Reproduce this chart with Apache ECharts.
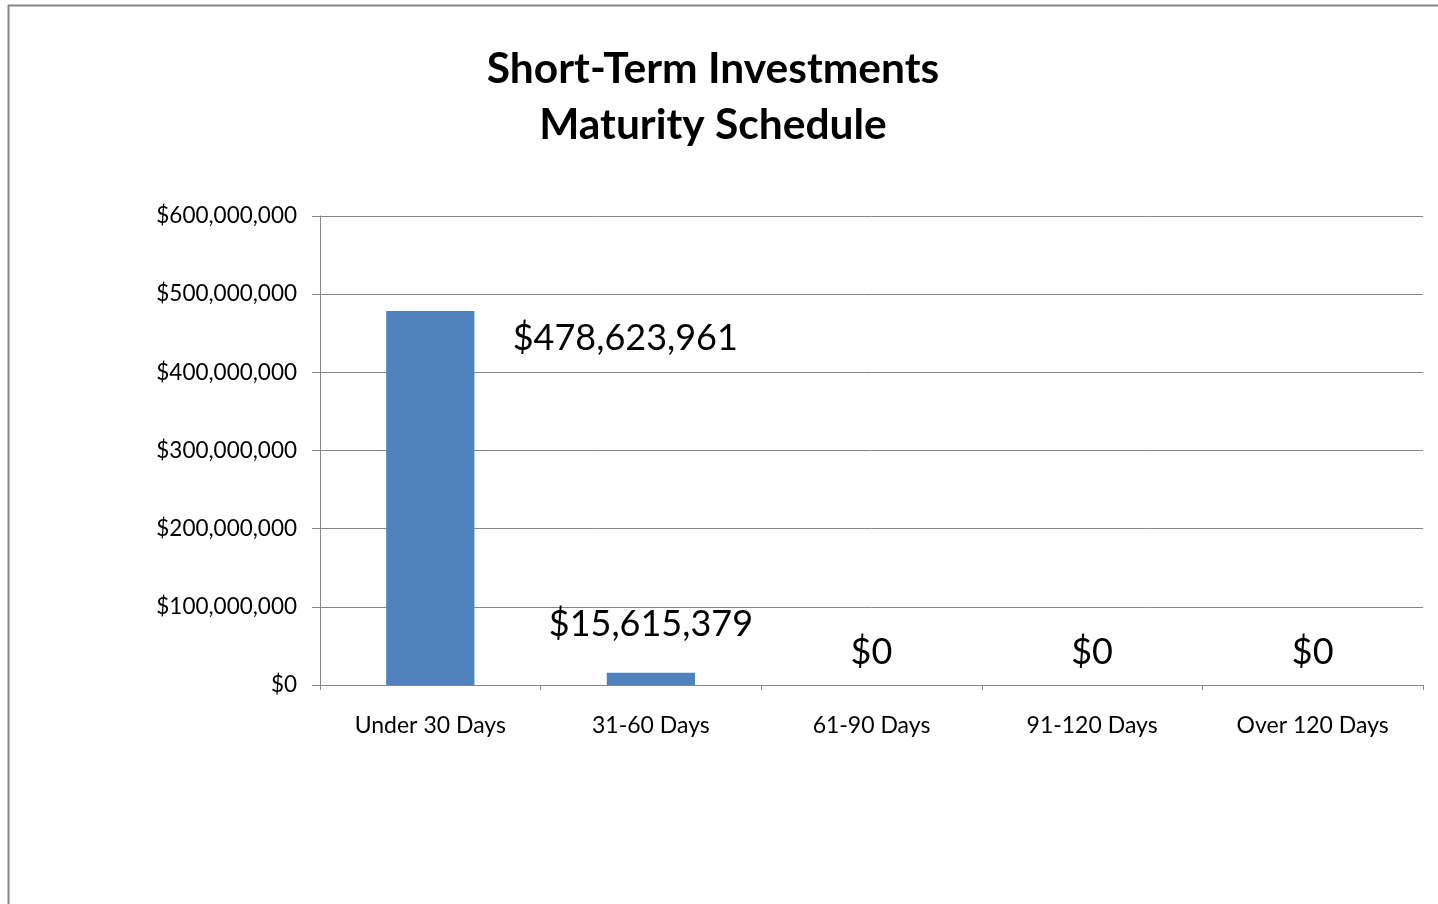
<!DOCTYPE html>
<html>
<head>
<meta charset="utf-8">
<title>Short-Term Investments Maturity Schedule</title>
<script src="https://cdn.jsdelivr.net/npm/echarts@6/dist/echarts.min.js"></script>
<style>
  html, body { margin: 0; padding: 0; background: #fff; }
  #chart { width: 1438px; height: 904px; }
</style>
</head>
<body>
<div id="chart"></div>
<script>
// values
const categories = ['Under 30 Days', '31-60 Days', '61-90 Days', '91-120 Days', 'Over 120 Days']
const amounts = [478623961, 15615379, 0, 0, 0]
const yTicks = { min: 0, max: 600000000, step: 100000000 }

// data labels were moved by hand in the original
const labelShift = [[195, 51], [0, -25], [0, -10], [0, -10], [0, -10]]

const money = v => '$' + Math.round(v).toLocaleString('en-US')
const font = 'Lato, "Open Sans", sans-serif'
const gray = '#868686'

const chart = echarts.init(document.getElementById('chart'))
chart.setOption({
  animation: false,
  title: {
    text: 'Short-Term Investments\nMaturity Schedule',
    left: 708,
    top: 36,
    textAlign: 'center',
    textStyle: {
      fontFamily: font,
      fontSize: 42.5,
      fontWeight: 'bold',
      lineHeight: 56,
      color: '#000',
    },
  },
  grid: { left: 320, right: 15, top: 216, bottom: 219 },
  xAxis: {
    type: 'category',
    data: categories,
    axisLine: { lineStyle: { color: gray, width: 1 } },
    axisTick: { show: true, length: 5, lineStyle: { color: gray } },
    axisLabel: { margin: 29, fontFamily: font, fontSize: 23, color: '#000' },
  },
  yAxis: {
    type: 'value',
    min: yTicks.min,
    max: yTicks.max,
    interval: yTicks.step,
    axisLine: { show: true, lineStyle: { color: gray, width: 1 } },
    axisTick: { show: true, length: 8, inside: false, lineStyle: { color: gray } },
    splitLine: { lineStyle: { color: gray, width: 1 } },
    axisLabel: {
      margin: 23,
      fontFamily: font,
      fontSize: 22.5,
      color: '#000',
      formatter: money,
    },
  },
  series: [
    {
      type: 'bar',
      barCategoryGap: '60%',
      itemStyle: { color: '#4F81BD' },
      data: amounts.map((v, i) => ({
        value: v,
        label: { offset: labelShift[i] },
      })),
      label: {
        show: true,
        position: 'top',
        fontFamily: font,
        fontSize: 36,
        color: '#000',
        formatter: p => money(p.value),
      },
    },
  ],
  graphic: [
    {
      type: 'line',
      shape: { x1: 8.5, y1: 5, x2: 8.5, y2: 904 },
      style: { stroke: gray, lineWidth: 2 },
    },
    {
      type: 'line',
      shape: { x1: 8, y1: 5.5, x2: 1438, y2: 5.5 },
      style: { stroke: gray, lineWidth: 2 },
    },
  ],
})
</script>
</body>
</html>
